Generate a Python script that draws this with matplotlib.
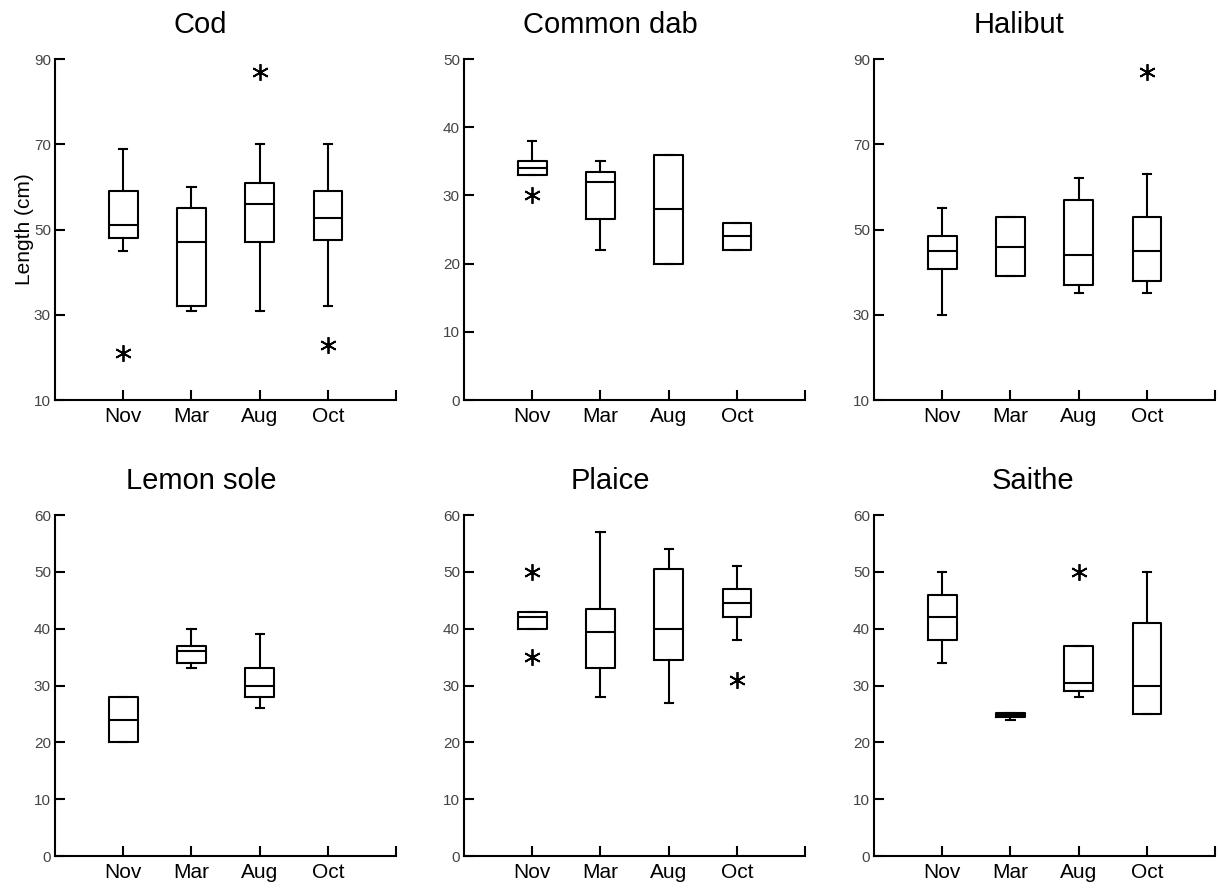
import matplotlib
matplotlib.use('Agg')
import matplotlib.pyplot as plt

plt.rcParams['font.family'] = ['Liberation Sans', 'DejaVu Sans']

months = ['Nov', 'Mar', 'Aug', 'Oct']

# (whisker low, q1, median, q3, whisker high) per month, None = no data
cod_stats = [(45, 48, 51, 59, 69), (31, 32, 47, 55, 60),
             (31, 47, 56, 61, 70), (32, 47.5, 52.7, 59, 70)]
cod_out = [[21], [], [87], [23]]

dab_stats = [(33, 33, 34, 35, 38), (22, 26.5, 32, 33.5, 35),
             (20, 20, 28, 36, 36), (22, 22, 24, 26, 26)]
dab_out = [[30], [], [], []]

halibut_stats = [(30, 40.7, 45, 48.6, 55), (39, 39, 46, 53, 53),
                 (35, 37, 44, 57, 62), (35, 38, 45, 53, 63)]
halibut_out = [[], [], [], [87]]

lemon_stats = [(20, 20, 24, 28, 28), (33, 34, 36, 37, 40),
               (26, 28, 30, 33, 39), None]
lemon_out = [[], [], [], []]

plaice_stats = [(40, 40, 42, 43, 43), (28, 33, 39.5, 43.5, 57),
                (27, 34.5, 40, 50.5, 54), (38, 42, 44.5, 47, 51)]
plaice_out = [[50, 35], [], [], [31]]

saithe_stats = [(34, 38, 42, 46, 50), (24, 24.5, 24.8, 25.1, 25.1),
                (28, 29, 30.5, 37, 37), (25, 25, 30, 41, 50)]
saithe_out = [[], [], [50], []]

panels = [
    ('Cod', cod_stats, cod_out, (10, 90), [10, 30, 50, 70, 90]),
    ('Common dab', dab_stats, dab_out, (0, 50), [0, 10, 20, 30, 40, 50]),
    ('Halibut', halibut_stats, halibut_out, (10, 90), [10, 30, 50, 70, 90]),
    ('Lemon sole', lemon_stats, lemon_out, (0, 60), [0, 10, 20, 30, 40, 50, 60]),
    ('Plaice', plaice_stats, plaice_out, (0, 60), [0, 10, 20, 30, 40, 50, 60]),
    ('Saithe', saithe_stats, saithe_out, (0, 60), [0, 10, 20, 30, 40, 50, 60]),
]

fig = plt.figure(figsize=(12.18, 8.88), dpi=100)
lefts = [0.0452, 0.381, 0.7176]
bottoms = [0.5495, 0.036]
title_x = [0.425, 0.428, 0.426, 0.43, 0.428, 0.466]

for i, (name, stats, outs, ylim, yticks) in enumerate(panels):
    ax = fig.add_axes([lefts[i % 3], bottoms[i // 3], 0.28, 0.384])
    bxp_stats = []
    positions = []
    for j, s in enumerate(stats):
        if s is None:
            continue
        lo, q1, med, q3, hi = s
        bxp_stats.append({'whislo': lo, 'q1': q1, 'med': med, 'q3': q3,
                          'whishi': hi, 'fliers': outs[j]})
        positions.append(j + 1)
    lp = dict(color='black', linewidth=1.5)
    ax.bxp(bxp_stats, positions=positions, widths=0.42, capwidths=0.12,
           boxprops=lp, whiskerprops=lp, capprops=lp, medianprops=lp,
           flierprops=dict(marker=(6, 2, 0), markersize=12,
                           markeredgecolor='black', markeredgewidth=1.3,
                           linestyle='none'))
    ax.set_xlim(0, 5)
    ax.set_ylim(*ylim)
    ax.set_xticks([1, 2, 3, 4, 5])
    ax.set_xticklabels(months + [''], fontsize=15)
    ax.set_yticks(yticks)
    ax.set_yticklabels([str(t) for t in yticks], fontsize=11, color='#444444')
    ax.tick_params(axis='both', direction='in', length=7, width=1.5, color='black')
    ax.tick_params(axis='x', pad=5)
    ax.tick_params(axis='y', pad=3)
    for sp in ['top', 'right']:
        ax.spines[sp].set_visible(False)
    for sp in ['left', 'bottom']:
        ax.spines[sp].set_linewidth(1.5)
    ax.set_title(name, fontsize=21, x=title_x[i], pad=19)
    if i == 0:
        ax.set_ylabel('Length (cm)', fontsize=15, labelpad=0)

fig.savefig('out.png', dpi=100)
